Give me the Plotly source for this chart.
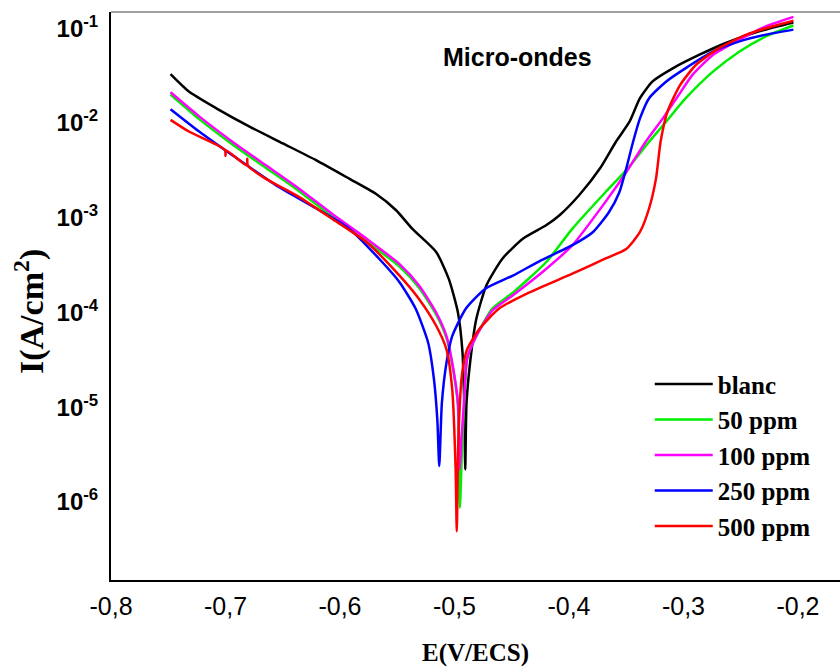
import plotly.graph_objects as go

# ---- data (E in V/ECS, I in A/cm2) ----
E_blanc = [-0.748, -0.732, -0.708, -0.679, -0.650, -0.621, -0.592, -0.569, -0.551, -0.537,
           -0.516, -0.505, -0.497, -0.493, -0.4915, -0.4906, -0.4895, -0.486, -0.481, -0.472,
           -0.458, -0.440, -0.420, -0.408, -0.391, -0.373, -0.359, -0.347, -0.338, -0.327,
           -0.309, -0.286, -0.263, -0.234, -0.204]
I_blanc = [3.28e-2, 2.15e-2, 1.43e-2, 9.16e-3, 6.10e-3, 4.06e-3, 2.59e-3, 1.80e-3, 1.20e-3, 7.67e-4,
           4.35e-4, 2.26e-4, 1.0e-4, 3.8e-5, 1.1e-5, 2.2e-6, 1.1e-5, 3.24e-5, 8.5e-5, 1.95e-4,
           3.72e-4, 6.03e-4, 8.32e-4, 1.07e-3, 1.74e-3, 3.31e-3, 6.35e-3, 1.04e-2, 1.83e-2, 2.75e-2,
           3.80e-2, 5.26e-2, 7.0e-2, 9.29e-2, 1.15e-1]

E_50 = [-0.748, -0.723, -0.694, -0.665, -0.636, -0.607, -0.577, -0.548, -0.531, -0.516,
        -0.507, -0.502, -0.497, -0.4953, -0.4935, -0.4914, -0.489, -0.481, -0.467, -0.449,
        -0.420, -0.397, -0.368, -0.350, -0.330, -0.315, -0.298, -0.274, -0.251, -0.228, -0.204]
I_50 = [2.0e-2, 1.10e-2, 5.95e-3, 3.38e-3, 1.92e-3, 1.03e-3, 5.65e-4, 3.05e-4, 1.82e-4, 9.5e-5,
        5.4e-5, 2.85e-5, 1.05e-5, 8.7e-7, 3.5e-6, 1.2e-5, 3.24e-5, 5.62e-5, 1.10e-4, 1.62e-4,
        3.39e-4, 7.67e-4, 1.87e-3, 3.18e-3, 6.35e-3, 1.04e-2, 1.83e-2, 3.51e-2, 5.70e-2, 8.22e-2, 1.07e-1]

E_100 = [-0.748, -0.723, -0.694, -0.665, -0.636, -0.607, -0.577, -0.548, -0.531, -0.516,
         -0.507, -0.502, -0.497, -0.4955, -0.494, -0.4915, -0.489, -0.481, -0.467, -0.449,
         -0.420, -0.397, -0.368, -0.350, -0.333, -0.318, -0.306, -0.292, -0.274, -0.251, -0.228, -0.204]
I_100 = [2.11e-2, 1.175e-2, 6.35e-3, 3.60e-3, 2.04e-3, 1.10e-3, 6.03e-4, 3.24e-4, 1.93e-4, 1.0e-4,
         5.62e-5, 2.95e-5, 1.12e-5, 2.2e-6, 4.5e-6, 1.2e-5, 3.24e-5, 5.62e-5, 1.05e-4, 1.52e-4,
         2.88e-4, 5.13e-4, 1.48e-3, 3.02e-3, 6.35e-3, 1.12e-2, 1.83e-2, 3.24e-2, 5.26e-2, 7.59e-2, 1.05e-1, 1.32e-1]

E_250 = [-0.748, -0.723, -0.694, -0.656, -0.621, -0.592, -0.563, -0.548, -0.534, -0.523,
         -0.518, -0.515, -0.5133, -0.511, -0.507, -0.502, -0.490, -0.473, -0.449, -0.426,
         -0.397, -0.379, -0.365, -0.356, -0.350, -0.344, -0.338, -0.330, -0.315, -0.298,
         -0.274, -0.251, -0.228, -0.204]
I_250 = [1.40e-2, 8.13e-3, 4.57e-3, 2.21e-3, 1.26e-3, 7.67e-4, 3.39e-4, 2.09e-4, 1.10e-4, 4.79e-5,
         2.0e-5, 7.41e-6, 2.4e-6, 1.12e-5, 2.95e-5, 5.62e-5, 1.10e-4, 1.78e-4, 2.45e-4, 3.47e-4,
         5.13e-4, 7.08e-4, 1.15e-3, 1.86e-3, 3.31e-3, 6.35e-3, 1.12e-2, 1.83e-2, 2.75e-2, 3.80e-2,
         5.70e-2, 7.28e-2, 8.57e-2, 9.68e-2]

E_500 = [-0.748, -0.732, -0.7005, -0.700, -0.6995, -0.6815, -0.681, -0.6805, -0.665, -0.636,
         -0.607, -0.577, -0.548, -0.531, -0.516, -0.507, -0.502, -0.499, -0.498, -0.4965,
         -0.4935, -0.489, -0.478, -0.461, -0.435, -0.397, -0.368, -0.350, -0.338, -0.330,
         -0.324, -0.320, -0.314, -0.303, -0.289, -0.269, -0.245, -0.222, -0.204]
I_500 = [1.08e-2, 8.13e-3, 5.2e-3, 4.5e-3, 5.15e-3, 3.58e-3, 4.2e-3, 3.55e-3, 2.59e-3, 1.66e-3,
         9.77e-4, 5.55e-4, 2.45e-4, 1.39e-4, 7.24e-5, 4.07e-5, 1.55e-5, 2.19e-6, 4.9e-7, 5.0e-6,
         2.19e-5, 4.07e-5, 6.76e-5, 1.10e-4, 1.62e-4, 2.57e-4, 3.72e-4, 4.68e-4, 7.08e-4, 1.26e-3,
         2.59e-3, 6.35e-3, 1.32e-2, 2.51e-2, 4.12e-2, 6.18e-2, 8.57e-2, 1.05e-1, 1.20e-1]

series_names = ["blanc", "50 ppm", "100 ppm", "250 ppm", "500 ppm"]
series_E = [E_blanc, E_50, E_100, E_250, E_500]
series_I = [I_blanc, I_50, I_100, I_250, I_500]
series_colors = ["#000000", "#00ee00", "#ff00ff", "#0000ff", "#ff0000"]

x_tickvals = [-0.8, -0.7, -0.6, -0.5, -0.4, -0.3, -0.2]
x_ticktext = ["-0,8", "-0,7", "-0,6", "-0,5", "-0,4", "-0,3", "-0,2"]
y_tickvals = [1e-6, 1e-5, 1e-4, 1e-3, 1e-2, 1e-1]
y_ticktext = ["<b>10<sup>-6</sup></b>", "<b>10<sup>-5</sup></b>", "<b>10<sup>-4</sup></b>",
              "<b>10<sup>-3</sup></b>", "<b>10<sup>-2</sup></b>", "<b>10<sup>-1</sup></b>"]

fig = go.Figure()
for name, ex, iy, col in zip(series_names, series_E, series_I, series_colors):
    fig.add_trace(go.Scatter(x=ex, y=iy, mode="lines", name=name,
                             line=dict(color=col, width=2.5, shape="spline", smoothing=0.6)))

serif = "Liberation Serif, Times New Roman, serif"
sans = "Liberation Sans, Arial, sans-serif"

fig.update_layout(
    width=840, height=667,
    margin=dict(l=111, r=0, t=12, b=87),
    plot_bgcolor="white", paper_bgcolor="white",
    showlegend=True,
    legend=dict(x=0.739, y=0.385, xanchor="left", yanchor="top", itemwidth=58,
                font=dict(family=serif, size=25, color="black", weight="bold"),
                bgcolor="rgba(0,0,0,0)", borderwidth=0, tracegroupgap=0),
    xaxis=dict(range=[-0.8, -0.1633], tickvals=x_tickvals, ticktext=x_ticktext,
               automargin=False,
               showline=True, linecolor="black", linewidth=2, ticks="outside",
               ticklen=3, tickcolor="rgba(0,0,0,0)", showgrid=False, zeroline=False,
               tickfont=dict(family=sans, size=25, color="black"),
               title=dict(text="<b>E(V/ECS)</b>", font=dict(family=serif, size=25, color="black"),
                          standoff=28)),
    yaxis=dict(type="log", range=[-6.824, -0.828], tickvals=y_tickvals, ticktext=y_ticktext,
               automargin=False,
               showline=True, linecolor="black", linewidth=2, ticks="outside",
               ticklen=6, tickcolor="rgba(0,0,0,0)", showgrid=False, zeroline=False,
               tickfont=dict(family=sans, size=24, color="black")),
    shapes=[dict(type="line", xref="paper", yref="paper", x0=0, x1=1, y0=1, y1=1,
                 line=dict(color="#808080", width=1.5))],
    annotations=[
        dict(text="<b>Micro-ondes</b>", xref="paper", yref="paper", x=0.557, y=0.921,
             xanchor="center", yanchor="middle", showarrow=False,
             font=dict(family=sans, size=25, color="black")),
        dict(text="<b>I(A/cm<sup>2</sup>)</b>", xref="paper", yref="paper", x=-0.111, y=0.472,
             xanchor="center", yanchor="middle", showarrow=False, textangle=-90,
             font=dict(family=serif, size=34, color="black")),
    ],
)

fig.write_html("out.html", config={"displayModeBar": False},
               post_script="document.body.style.margin='0px';")
